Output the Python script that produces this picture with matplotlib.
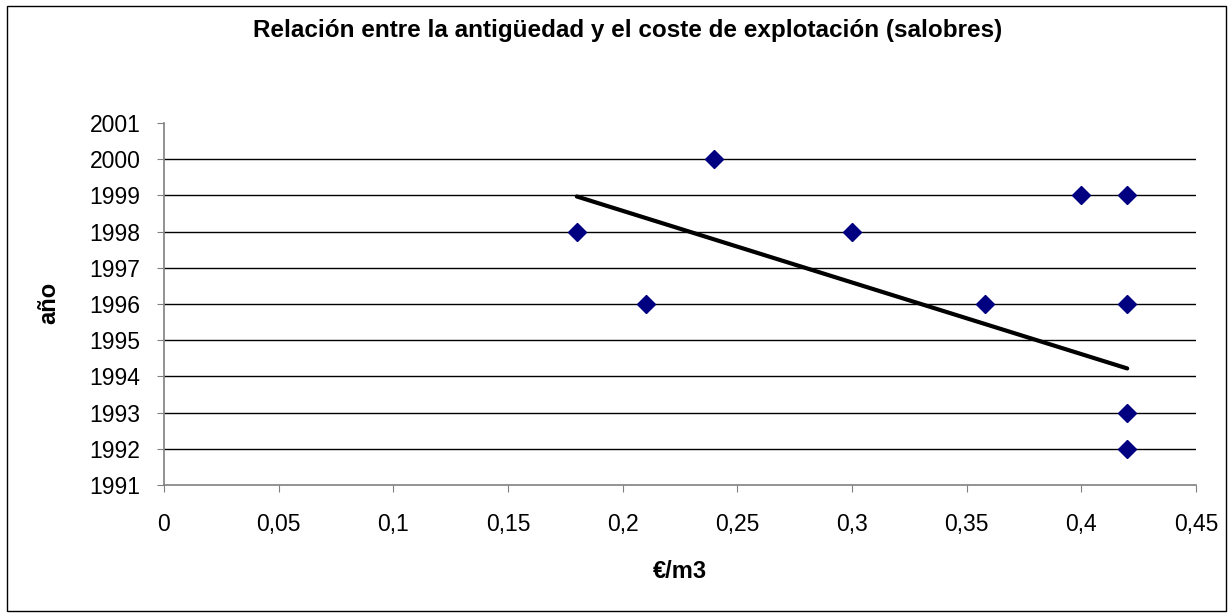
import matplotlib
matplotlib.use("Agg")
from matplotlib import pyplot as plt
from matplotlib.patches import Rectangle

plt.rcParams['font.family'] = ['Liberation Sans', 'DejaVu Sans']

# data
coste = [0.18, 0.21, 0.24, 0.30, 0.358, 0.40, 0.42, 0.42, 0.42, 0.42]
anio = [1998, 1996, 2000, 1998, 1996, 1999, 1999, 1996, 1993, 1992]
trend_x = [0.18, 0.42]
trend_y = [1998.97, 1994.22]

x_ticks = [0, 0.05, 0.1, 0.15, 0.2, 0.25, 0.3, 0.35, 0.4, 0.45]
x_labels = ["0", "0,05", "0,1", "0,15", "0,2", "0,25", "0,3", "0,35", "0,4", "0,45"]
y_ticks = list(range(1991, 2002))

fig = plt.figure(figsize=(12.32, 6.16), dpi=100)
ax = fig.add_axes([164/1232, 1-485/616, (1196-164)/1232, (485-123)/616])

for yy in y_ticks[1:-1]:
    ax.axhline(yy, color="black", lw=1, zorder=1)

ax.plot(trend_x, trend_y, color="black", lw=3, solid_capstyle="round", zorder=2)
ax.plot(coste, anio, linestyle="none", marker="D", ms=9, color="#000080", zorder=3)

ax.set_xlim(0, 0.45)
ax.set_ylim(1991, 2001)
ax.set_xticks(x_ticks)
ax.set_xticklabels(x_labels)
ax.set_yticks(y_ticks)
ax.tick_params(axis="both", labelsize=16.5, length=5, color="#808080", direction="out")
ax.tick_params(axis="y", pad=12)
ax.tick_params(axis="x", pad=15)

for s in ["top", "right"]:
    ax.spines[s].set_visible(False)
for s in ["left", "bottom"]:
    ax.spines[s].set_color("#808080")
    ax.spines[s].set_linewidth(1.2)

fig.text(628/1232, 1-30/616, "Relación entre la antigüedad y el coste de explotación (salobres)",
         ha="center", va="center", fontsize=17.5, fontweight="bold")
fig.text(49/1232, 1-303/616, "año", rotation=90, ha="center", va="center", fontsize=17, fontweight="bold")
fig.text(680/1232, 1-571/616, "€/m3", ha="center", va="center", fontsize=17, fontweight="bold")

fig.patches.append(Rectangle((7/1232, 1-611/616), 1219/1232, 605/616, transform=fig.transFigure,
                             fill=False, edgecolor="black", lw=1))

plt.savefig("out.png", dpi=100)
